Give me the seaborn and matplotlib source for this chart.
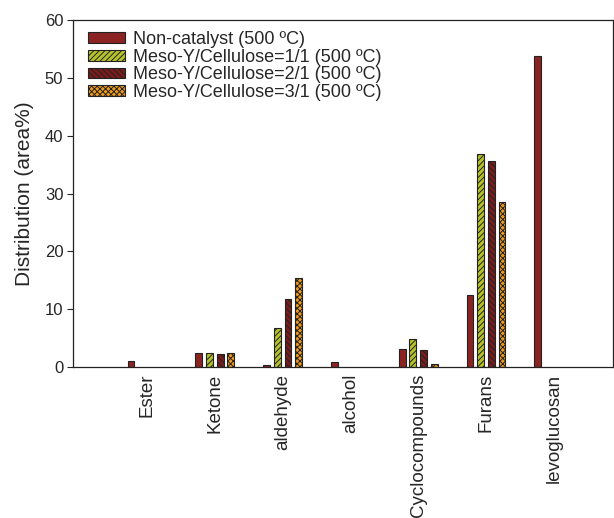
import pandas as pd
import numpy as np
import matplotlib.pyplot as plt
import seaborn as sns
from matplotlib.patches import Patch

# Data
categories = ['Ester', 'Ketone', 'aldehyde', 'alcohol', 'Cyclocompounds', 'Furans', 'levoglucosan']
series = ['Non-catalyst (500 \u00baC)', 'Meso-Y/Cellulose=1/1 (500 \u00baC)',
          'Meso-Y/Cellulose=2/1 (500 \u00baC)', 'Meso-Y/Cellulose=3/1 (500 \u00baC)']
non_cat = [1.1, 2.4, 0.4, 0.9, 3.2, 12.4, 53.8]
ratio_1 = [np.nan, 2.4, 6.7, np.nan, 4.8, 36.8, np.nan]
ratio_2 = [np.nan, 2.2, 11.8, np.nan, 3.0, 35.6, np.nan]
ratio_3 = [np.nan, 2.4, 15.4, np.nan, 0.5, 28.5, np.nan]

colors = ['#8b2323', '#b5c22a', '#7a1c1c', '#f29a1c']
hatches = [None, '//////', '\\\\\\\\\\\\', 'xxxxxx']

rows = []
for name, vals in zip(series, [non_cat, ratio_1, ratio_2, ratio_3]):
    for c, v in zip(categories, vals):
        rows.append({'cat': c, 'val': v, 'series': name})
df = pd.DataFrame(rows)

sns.set_style('ticks')
plt.rcParams['font.family'] = ['Liberation Sans', 'DejaVu Sans']
plt.rcParams['hatch.linewidth'] = 0.7

fig = plt.figure(figsize=(6.14, 5.18), dpi=100)
ax = fig.add_axes([0.119, 0.2915, 0.879, 0.6695])

sns.barplot(data=df, x='cat', y='val', hue='series', order=categories, hue_order=series,
            palette=colors, width=0.63, edgecolor='#222222', linewidth=0.8,
            saturation=1, legend=False, ax=ax)

# thinner bars with small gaps, plus hatching
for i, cont in enumerate(ax.containers):
    for p in cont.patches:
        cx = p.get_x() + p.get_width() / 2
        p.set_width(0.10)
        p.set_x(cx - 0.05)
        if hatches[i]:
            p.set_hatch(hatches[i])

ax.set_xlim(-1.09, 6.87)
ax.set_ylim(0, 60)
ax.set_yticks(range(0, 61, 10))
ax.set_xlabel('')
ax.set_ylabel('Distribution (area%)', fontsize=15, labelpad=8)
ax.tick_params(axis='y', labelsize=12, direction='out', length=4, width=0.8, pad=3)
ax.tick_params(axis='x', labelsize=13.5, length=0, rotation=90, pad=5)
for s in ax.spines.values():
    s.set_linewidth(0.9)
    s.set_color('#222222')

handles = [Patch(facecolor=c, edgecolor='#222222', hatch=h, linewidth=0.8)
           for c, h in zip(colors, hatches)]
ax.legend(handles, series, loc='upper left', frameon=False, fontsize=13,
          handlelength=2.05, handleheight=0.55, handletextpad=0.45, labelspacing=0.05,
          borderpad=0, borderaxespad=0, bbox_to_anchor=(0.028, 0.97))

fig.savefig('out.png', dpi=100)
